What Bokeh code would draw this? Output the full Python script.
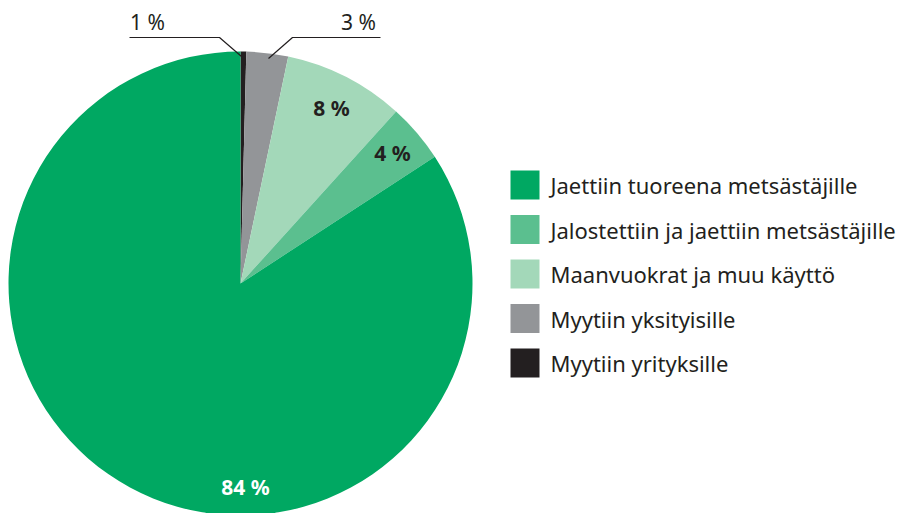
import math
from bokeh.plotting import figure
from bokeh.models import ColumnDataSource, Range1d
from bokeh.core.properties import value
from bokeh.embed import file_html
from bokeh.resources import INLINE

# Data (clockwise from 12 o'clock)
categories = ["Myytiin yrityksille", "Myytiin yksityisille", "Maanvuokrat ja muu käyttö",
              "Jalostettiin ja jaettiin metsästäjille", "Jaettiin tuoreena metsästäjille"]
shares = [0.4, 2.9, 8.4, 4.1, 84.2]
labels = ["1 %", "3 %", "8 %", "4 %", "84 %"]
colors = ["#231f20", "#939598", "#a3d8b9", "#5bbf8f", "#00a862"]

legend_order = ["Jaettiin tuoreena metsästäjille", "Jalostettiin ja jaettiin metsästäjille",
                "Maanvuokrat ja muu käyttö", "Myytiin yksityisille", "Myytiin yrityksille"]

W, H = 902, 513
FONT = "Noto Sans"
TXT = "#231f20"

def X(px):
    return px

def Y(py):
    return H - py

p = figure(width=W, height=H, output_backend="svg", toolbar_location=None,
           x_range=Range1d(0, W), y_range=Range1d(0, H), min_border=0)
p.axis.visible = False
p.grid.visible = False
p.outline_line_color = None

total = sum(shares)
starts, ends = [], []
acc = 0.0
for s in shares:
    starts.append(math.pi / 2 - 2 * math.pi * acc / total)
    acc += s
    ends.append(math.pi / 2 - 2 * math.pi * acc / total)

src = ColumnDataSource(dict(start=starts, end=ends, color=colors, cat=categories))
cx, cy, r = X(240), Y(283), 232
p.wedge(x=cx, y=cy, radius=r, start_angle="start", end_angle="end", direction="clock",
        fill_color="color", line_color=None, source=src)

# Inside labels
inside_pos = {2: (331, 107), 3: (392, 152), 4: (245, 486)}
for i, (px, py) in inside_pos.items():
    p.text(x=[X(px)], y=[Y(py)], text=[labels[i]], text_font=value(FONT),
           text_font_size="21px", text_font_style="bold",
           text_color="white" if i == 4 else TXT,
           text_align="center", text_baseline="middle")

# Outside labels with leader lines
p.text(x=[X(147)], y=[Y(21)], text=[labels[0]], text_font=value(FONT), text_font_size="21px",
       text_color=TXT, text_align="center", text_baseline="middle")
p.text(x=[X(358)], y=[Y(21)], text=[labels[1]], text_font=value(FONT), text_font_size="21px",
       text_color=TXT, text_align="center", text_baseline="middle")
p.line(x=[X(129), X(219), X(241)], y=[Y(37), Y(37), Y(56)], line_color=TXT, line_width=1.2)
p.line(x=[X(380), X(292), X(268)], y=[Y(37), Y(37), Y(58)], line_color=TXT, line_width=1.2)

# Legend
col_of = dict(zip(categories, colors))
for k, name in enumerate(legend_order):
    yc = 184.5 + 44.5 * k
    p.rect(x=[X(524.5)], y=[Y(yc)], width=29, height=29, fill_color=col_of[name], line_color=None)
    p.text(x=[X(550)], y=[Y(yc)], text=[name], text_font=value(FONT), text_font_size="22px",
           text_color=TXT, text_align="left", text_baseline="middle")

open("out.html", "w").write(file_html(p, INLINE))
